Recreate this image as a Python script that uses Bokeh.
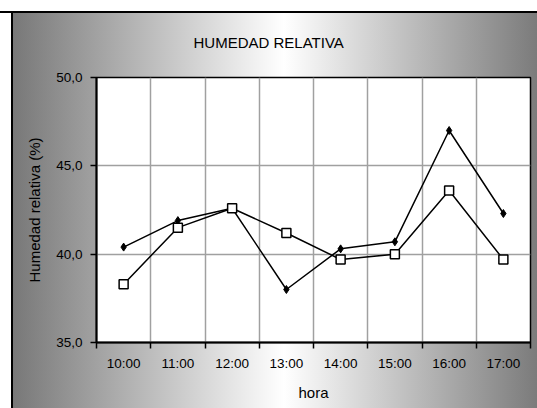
from bokeh.plotting import figure
from bokeh.models import FixedTicker, Title, ColumnDataSource
from bokeh.embed import file_html
from bokeh.resources import INLINE

titulo = "HUMEDAD RELATIVA"
horas = ["10:00", "11:00", "12:00", "13:00", "14:00", "15:00", "16:00", "17:00"]
serie_a = [40.4, 41.9, 42.6, 38.0, 40.3, 40.7, 47.0, 42.3]
serie_b = [38.3, 41.5, 42.6, 41.2, 39.7, 40.0, 43.6, 39.7]
y_ticks = [35, 40, 45, 50]

xs = [i + 0.5 for i in range(len(horas))]

p = figure(width=537, height=408, x_range=(0, len(horas)), y_range=(35, 50),
           output_backend="svg", toolbar_location=None,
           min_border_left=96, min_border_right=7, min_border_top=77, min_border_bottom=66)

p.styles = {
    "background-image": (
        "linear-gradient(to bottom, #ffffff 0px, #ffffff 11px, #000000 11px, #000000 13px, rgba(0,0,0,0) 13px), "
        "linear-gradient(to right, #ffffff 0px, #ffffff 11px, #000000 11px, #000000 13px, rgba(0,0,0,0) 13px), "
        "linear-gradient(to right, #777777 11px, #ffffff 284px, #777777 545px)"
    )
}
p.border_fill_alpha = 0
p.background_fill_color = "white"
p.outline_line_color = "black"
p.outline_line_width = 1.5

p.title = Title(text=titulo, align="left", offset=97, vertical_align="top",
                text_font="Liberation Sans", text_font_size="15px",
                text_font_style="normal", text_color="black", standoff=49)

xt = FixedTicker(ticks=xs, minor_ticks=list(range(len(horas) + 1)))
p.xaxis.ticker = xt
p.xaxis.major_label_overrides = {x: h for x, h in zip(xs, horas)}
p.xaxis.major_tick_out = 0
p.xaxis.major_tick_in = 0
p.xaxis.minor_tick_out = 6
p.xaxis.minor_tick_in = 0
p.xaxis.minor_tick_line_color = "black"
p.xaxis.minor_tick_line_width = 1.5
p.xaxis.major_label_standoff = 7
p.xaxis.axis_label = "hora"
p.xaxis.axis_label_standoff = 10

p.yaxis.ticker = FixedTicker(ticks=y_ticks, minor_ticks=[])
p.yaxis.major_label_overrides = {t: f"{t},0" for t in y_ticks}
p.yaxis.major_tick_out = 6
p.yaxis.major_tick_in = 0
p.yaxis.major_label_standoff = 8
p.yaxis.axis_label = "Humedad relativa (%)"
p.yaxis.axis_label_standoff = 10

for ax in (p.xaxis, p.yaxis):
    ax.axis_line_color = "black"
    ax.axis_line_width = 2
    ax.major_tick_line_color = "black"
    ax.major_tick_line_width = 1.5
    ax.major_label_text_font = "Liberation Sans"
    ax.major_label_text_font_size = "13.5px"
    ax.major_label_text_color = "black"
    ax.axis_label_text_font = "Liberation Sans"
    ax.axis_label_text_font_size = "15px"
    ax.axis_label_text_font_style = "normal"
    ax.axis_label_text_color = "black"

p.xgrid.ticker = FixedTicker(ticks=list(range(1, len(horas))))
p.ygrid.ticker = FixedTicker(ticks=[40, 45])
for g in (p.xgrid, p.ygrid):
    g.grid_line_color = "#a0a0a0"
    g.grid_line_width = 1.5

src = ColumnDataSource(dict(x=xs, a=serie_a, b=serie_b))
p.line("x", "a", source=src, line_color="black", line_width=1.5)
p.line("x", "b", source=src, line_color="black", line_width=1.5)
p.scatter("x", "a", source=src, marker="diamond", size=8, fill_color="black", line_color="black")
p.scatter("x", "b", source=src, marker="square", size=9, fill_color="white", line_color="black", line_width=1.5)

open("out.html", "w").write(file_html(p, INLINE))
